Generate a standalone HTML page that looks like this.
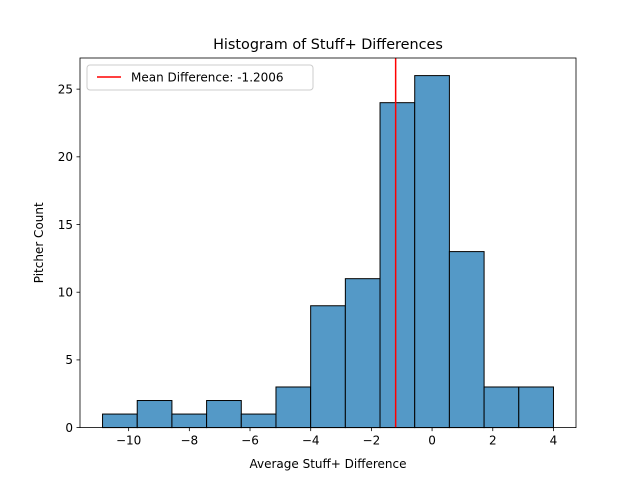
<!DOCTYPE html>
<html><head><meta charset="utf-8"><style>
body{margin:0;background:#fff;}
svg text{font-family:"DejaVu Sans","Liberation Sans",sans-serif;fill:#000;}
</style></head><body>
<svg id="chart" width="640" height="480">
<rect width="640" height="480" fill="#fff"/>
<g id="bars"></g>
<g id="xt"></g>
<g id="yt"></g>
<line id="meanline" stroke="#ff0000" stroke-width="1.5"/>
<rect x="80" y="58" width="496" height="369.6" fill="none" stroke="#000" stroke-width="0.8"/>
<text x="328" y="49" text-anchor="middle" font-size="14.4">Histogram of Stuff+ Differences</text>
<text x="328" y="468" text-anchor="middle" font-size="12">Average Stuff+ Difference</text>
<text transform="translate(43,242.8) rotate(-90)" text-anchor="middle" font-size="12">Pitcher Count</text>
<g>
<rect x="87" y="65" width="226" height="25" rx="3" fill="#fff" fill-opacity="0.8" stroke="#ccc"/>
<line x1="97" y1="77" x2="121" y2="77" stroke="#ff0000" stroke-width="1.5"/>
<text x="131" y="81.5" font-size="12">Mean Difference: -1.2006</text>
</g>
</svg>
<script>
const binStart = -10.86;
const binWidth = 1.1431;
const counts = [1,2,1,2,1,3,9,11,24,26,13,3,3];
const xTicks = [-10,-8,-6,-4,-2,0,2,4];
const yTicks = [0,5,10,15,20,25];
const meanValue = -1.2006;
const xMin = -11.603, xMax = 4.743, yMin = 0, yMax = 27.3;
const L=80,R=576,T=58,B=427.6;
const NS="http://www.w3.org/2000/svg";
function sx(v){return L+(v-xMin)/(xMax-xMin)*(R-L);}
function sy(v){return B-(v-yMin)/(yMax-yMin)*(B-T);}
function mk(tag,attrs,parent){const e=document.createElementNS(NS,tag);for(const k in attrs)e.setAttribute(k,attrs[k]);parent.appendChild(e);return e;}
const bars=document.getElementById('bars');
counts.forEach((c,i)=>{
  const x0=sx(binStart+i*binWidth), x1=sx(binStart+(i+1)*binWidth);
  const r=mk('rect',{x:x0,y:sy(c),width:x1-x0,height:sy(0)-sy(c),fill:'#5499c7',stroke:'#000','stroke-width':1},bars);
  
  
});
const xt=document.getElementById('xt');
xTicks.forEach(v=>{
  const x=sx(v);
  const l=mk('line',{x1:x,x2:x,y1:B,y2:B+3.5,stroke:'#000','stroke-width':0.8},xt);
  
  
  const t=mk('text',{x:x,y:B+17,'text-anchor':'middle','font-size':12},xt);
  t.textContent=(v<0?'\u2212'+(-v):String(v));
  
  
});
const yt=document.getElementById('yt');
yTicks.forEach(v=>{
  const y=sy(v);
  const l=mk('line',{x1:L-3.5,x2:L,y1:y,y2:y,stroke:'#000','stroke-width':0.8},yt);
  
  
  const t=mk('text',{x:L-7,y:y+4.3,'text-anchor':'end','font-size':12},yt);
  t.textContent=String(v);
  
  
});
const ml=document.getElementById('meanline');
ml.setAttribute('x1',sx(meanValue));ml.setAttribute('x2',sx(meanValue));
ml.setAttribute('y1',T);ml.setAttribute('y2',B);
</script>
</body></html>
